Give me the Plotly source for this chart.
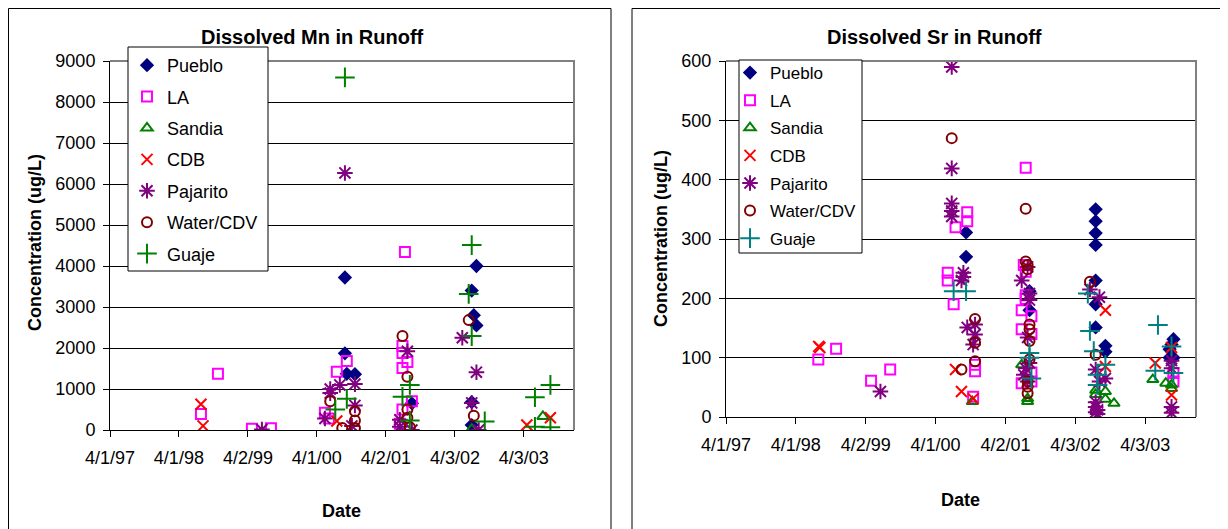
import plotly.graph_objects as go

# ---------------- data: dissolved Mn (ug/L) ----------------
mn_pueblo_dates = ["2000-08-28", "2000-08-28", "2000-09-07", "2000-10-20", "2001-08-18",
                   "2002-07-26", "2002-07-01", "2002-07-12", "2002-07-26", "2002-07-01", "2002-07-01"]
mn_pueblo_vals = [3720, 1870, 1370, 1360, 650, 4000, 3400, 2800, 2550, 680, 120]

mn_la_dates = ["1998-07-27", "1998-10-25", "1999-04-23", "1999-08-02", "2000-05-14", "2000-06-04",
               "2000-07-16", "2000-09-07", "2001-07-12", "2001-06-29", "2001-06-29", "2001-07-25",
               "2001-06-29", "2001-06-29", "2001-06-15", "2001-08-18"]
mn_la_vals = [390, 1370, 30, 40, 420, 280, 1420, 1680, 4340, 2050, 1880, 1660, 1510, 500, 150, 700]

mn_sandia_dates = ["2002-07-01", "2003-07-13"]
mn_sandia_vals = [20, 330]

mn_cdb_dates = ["1998-07-27", "1998-08-07", "2000-07-16", "2003-04-19", "2003-08-22"]
mn_cdb_vals = [630, 100, 220, 120, 300]

mn_pajarito_dates = ["1999-06-15", "2000-08-28", "2000-06-11", "2000-08-01", "2000-10-20", "2000-06-11",
                     "2000-10-20", "2000-10-04", "2000-05-14", "2001-07-25", "2001-06-15", "2001-06-15",
                     "2001-08-18", "2002-07-26", "2002-07-01", "2002-05-12", "2002-08-07"]
mn_pajarito_vals = [10, 6270, 1000, 1100, 1120, 900, 600, 100, 280, 1920, 250, 80, 0, 1410, 660, 2250, 0]

mn_water_dates = ["2000-06-11", "2000-08-14", "2000-10-20", "2000-10-20", "2000-10-20", "2001-06-29",
                  "2001-07-25", "2001-07-25", "2001-08-07", "2001-07-25", "2002-06-15", "2002-07-12"]
mn_water_vals = [700, 50, 460, 230, 50, 2290, 500, 300, 70, 1300, 2680, 350]

mn_guaje_dates = ["2000-08-28", "2000-09-07", "2000-07-08", "2001-08-07", "2001-06-29", "2001-08-07",
                  "2002-07-01", "2002-06-15", "2002-07-01", "2002-09-08", "2003-06-01", "2003-08-22",
                  "2003-06-01", "2003-08-22"]
mn_guaje_vals = [8600, 760, 500, 1100, 810, 230, 4510, 3320, 2290, 210, 800, 1100, 80, 70]

# ---------------- data: dissolved Sr (ug/L) ----------------
sr_pueblo_dates = ["2000-09-08", "2000-09-08", "2001-08-06", "2001-08-06", "2002-07-18", "2002-07-18",
                   "2002-07-18", "2002-07-18", "2002-07-18", "2002-07-18", "2002-07-18", "2002-09-07",
                   "2002-09-07", "2003-08-29", "2003-08-19", "2003-08-09", "2003-08-29", "2003-08-09"]
sr_pueblo_vals = [311, 270, 212, 180, 350, 330, 310, 290, 230, 190, 151, 120, 110, 131, 122, 114, 100, 100]

sr_la_dates = ["1998-07-28", "1998-10-29", "1999-04-30", "1999-08-08", "2000-06-04", "2000-06-04",
               "2000-07-15", "2000-09-14", "2000-09-14", "2000-07-05", "2000-10-25", "2000-10-25",
               "2000-10-15", "2001-07-17", "2001-07-07", "2001-07-17", "2001-07-17", "2001-07-17",
               "2001-06-26", "2001-08-16", "2001-06-26", "2001-08-16", "2001-08-16", "2001-06-26",
               "2001-08-16", "2003-08-29", "2003-08-29"]
sr_la_vals = [97, 115, 61, 80, 243, 230, 320, 345, 330, 190, 88, 77, 34, 420, 256, 245, 205, 199,
              180, 170, 148, 140, 75, 57, 60, 74, 60]

sr_sandia_dates = ["2000-10-11", "2001-06-26", "2001-07-27", "2001-07-27", "2002-07-18", "2002-07-18",
                   "2002-09-07", "2002-09-07", "2002-10-22", "2003-05-13", "2003-07-20", "2003-08-19",
                   "2003-08-19"]
sr_sandia_vals = [26, 88, 26, 31, 45, 38, 43, 30, 23, 63, 57, 54, 48]

sr_cdb_dates = ["1998-07-30", "1998-08-05", "2000-07-15", "2000-08-15", "2000-10-15", "2002-09-07",
                "2002-09-07", "2003-05-26", "2003-08-19", "2003-08-19"]
sr_cdb_vals = [119, 117, 80, 43, 31, 180, 85, 91, 117, 37]

sr_pajarito_dates = ["1999-06-18", "2000-06-25", "2000-06-25", "2000-06-25", "2000-06-25", "2000-06-25",
                     "2000-08-25", "2000-08-25", "2000-08-15", "2000-09-14", "2000-10-25", "2000-10-25",
                     "2000-10-15", "2001-06-26", "2001-07-27", "2001-08-06", "2001-08-06", "2001-07-27",
                     "2001-07-17", "2001-07-07", "2001-08-06", "2001-07-27", "2002-06-18", "2002-08-07",
                     "2002-07-18", "2002-09-07", "2002-08-07", "2002-07-18", "2002-07-18", "2002-07-28",
                     "2002-07-18", "2002-07-28", "2003-08-19", "2003-08-19", "2003-08-19", "2003-08-19"]
sr_pajarito_vals = [43, 590, 419, 360, 347, 338, 243, 236, 230, 151, 156, 139, 122, 230, 253, 208, 197,
                    134, 82, 71, 91, 60, 215, 202, 80, 65, 60, 25, 17, 12, 8, 5, 95, 82, 17, 7]

sr_water_dates = ["2000-06-25", "2000-08-15", "2000-10-25", "2000-10-25", "2000-10-25", "2001-07-17",
                  "2001-07-17", "2001-07-27", "2001-07-27", "2001-08-06", "2001-08-06", "2001-08-06",
                  "2001-08-06", "2001-07-27", "2001-07-27", "2001-07-27", "2002-06-18", "2002-07-18"]
sr_water_vals = [470, 80, 165, 125, 94, 351, 262, 256, 249, 156, 148, 128, 97, 60, 51, 40, 228, 105]

sr_guaje_dates = ["2000-07-05", "2000-09-08", "2001-08-06", "2001-08-06", "2001-08-16", "2002-06-07",
                  "2002-06-18", "2002-07-08", "2002-07-28", "2002-07-28", "2002-09-07", "2003-06-09",
                  "2003-05-26", "2003-08-19", "2003-08-29"]
sr_guaje_vals = [212, 212, 108, 100, 65, 208, 145, 111, 71, 54, 88, 155, 78, 119, 74]

date_ticks = ["1997-04-01", "1998-04-01", "1999-04-02", "2000-04-01", "2001-04-02", "2002-04-03", "2003-04-03"]
date_labels = ["4/1/97", "4/1/98", "4/2/99", "4/1/00", "4/2/01", "4/3/02", "4/3/03"]

FONT = "Arial, Liberation Sans, sans-serif"
# the page body keeps its 8px margin, so the figure starts at (8, 8) on screen
OFF = 8
W, H = 1228 - OFF, 529 - OFF

def px(v):
    # screen x (pixels) -> paper
    return (v - OFF) / W

def py(v):
    # screen y (pixels from top) -> paper
    return 1 - (v - OFF) / H

# symbol, colour, size for each site
styles = {
    "Pueblo": ("diamond", "#000080", 11),
    "LA": ("square-open", "#FF00FF", 10),
    "Sandia": ("triangle-up-open", "#008000", 10),
    "CDB": ("x-thin-open", "#FF0000", 11),
    "Pajarito": ("asterisk-open", "#800080", 13),
    "Water/CDV": ("circle-open", "#800000", 10),
    "Guaje": ("cross-thin-open", "#008000", 14),
}

mn_series = [
    ("Pueblo", mn_pueblo_dates, mn_pueblo_vals),
    ("LA", mn_la_dates, mn_la_vals),
    ("Sandia", mn_sandia_dates, mn_sandia_vals),
    ("CDB", mn_cdb_dates, mn_cdb_vals),
    ("Pajarito", mn_pajarito_dates, mn_pajarito_vals),
    ("Water/CDV", mn_water_dates, mn_water_vals),
    ("Guaje", mn_guaje_dates, mn_guaje_vals),
]
sr_series = [
    ("Pueblo", sr_pueblo_dates, sr_pueblo_vals),
    ("LA", sr_la_dates, sr_la_vals),
    ("Sandia", sr_sandia_dates, sr_sandia_vals),
    ("CDB", sr_cdb_dates, sr_cdb_vals),
    ("Pajarito", sr_pajarito_dates, sr_pajarito_vals),
    ("Water/CDV", sr_water_dates, sr_water_vals),
    ("Guaje", sr_guaje_dates, sr_guaje_vals),
]

fig = go.Figure()

for panel, series, xa, ya, leg in [("mn", mn_series, "x", "y", "legend"),
                                   ("sr", sr_series, "x2", "y2", "legend2")]:
    for name, d, v in series:
        sym, col, size = styles[name]
        if panel == "sr" and name == "Guaje":
            col = "#008080"  # Guaje is teal on the Sr chart
        fig.add_trace(go.Scatter(
            x=d, y=v, mode="markers", name=name,
            xaxis=xa, yaxis=ya, legend=leg, legendgroup=panel + name,
            marker=dict(symbol=sym, size=size, color=col,
                        line=dict(color=col, width=2 if "open" in sym else 0)),
        ))

xcommon = dict(type="date", range=["1997-04-01", "2003-12-25"], tickvals=date_ticks, ticktext=date_labels,
               showgrid=False, showline=True, linecolor="black", linewidth=1, ticks="outside",
               ticklen=6, tickcolor="black", ticklabelstandoff=5, automargin=False,
               tickfont=dict(family=FONT, size=18, color="black"), zeroline=False)
ycommon = dict(showgrid=True, gridcolor="black", gridwidth=1, showline=True, linecolor="black",
               linewidth=1, ticks="outside", ticklen=6, tickcolor="black", zeroline=False,
               automargin=False, tickfont=dict(family=FONT, size=18, color="black"), ticklabelstandoff=4)

fig.update_layout(
    width=W, height=H,
    margin=dict(l=0, r=0, t=0, b=0, pad=0),
    paper_bgcolor="white", plot_bgcolor="white",
    font=dict(family=FONT, color="black"),
    xaxis=dict(xcommon, domain=[px(110), px(574)], anchor="y"),
    yaxis=dict(ycommon, domain=[py(430), py(61)], range=[0, 9000], dtick=1000, anchor="x"),
    xaxis2=dict(xcommon, domain=[px(726), px(1196)], anchor="y2"),
    yaxis2=dict(ycommon, domain=[py(417), py(61)], range=[0, 600], dtick=100, anchor="x2"),
    legend=dict(x=px(127), y=py(47), xanchor="left", yanchor="top", bgcolor="rgba(0,0,0,0)",
                borderwidth=0, tracegroupgap=5, font=dict(family=FONT, size=18)),
    legend2=dict(x=px(730), y=py(55), xanchor="left", yanchor="top", bgcolor="rgba(0,0,0,0)",
                 borderwidth=0, tracegroupgap=2.5, font=dict(family=FONT, size=17)),
    showlegend=True,
)

shapes = [
    # outer panel frames
    dict(type="rect", xref="paper", yref="paper", x0=px(8.5), x1=px(611), y0=-0.05, y1=py(8.5),
         line=dict(color="black", width=1), layer="below"),
    dict(type="rect", xref="paper", yref="paper", x0=px(632), x1=1.05, y0=-0.05, y1=py(8.5),
         line=dict(color="black", width=1), layer="below"),
    # grey plot-area borders (top and right)
    dict(type="path", xref="x domain", yref="y domain", path="M 0,1 L 1,1 L 1,0",
         line=dict(color="#808080", width=2)),
    dict(type="path", xref="x2 domain", yref="y2 domain", path="M 0,1 L 1,1 L 1,0",
         line=dict(color="#808080", width=2)),
    # legend boxes
    dict(type="rect", xref="paper", yref="paper", x0=px(128), x1=px(268), y0=py(271), y1=py(47),
         line=dict(color="black", width=1), fillcolor="white", layer="above"),
    dict(type="rect", xref="paper", yref="paper", x0=px(739), x1=px(862), y0=py(253), y1=py(60),
         line=dict(color="black", width=1), fillcolor="white", layer="above"),
]
fig.update_layout(shapes=shapes)

bold = dict(family=FONT, size=18, color="black")
annots = [
    dict(text="<b>Dissolved Mn in Runoff</b>", x=px(312), y=py(37), font=dict(family=FONT, size=20, color="black")),
    dict(text="<b>Dissolved Sr in Runoff</b>", x=px(934), y=py(37), font=dict(family=FONT, size=20, color="black")),
    dict(text="<b>Concentration (ug/L)</b>", x=px(35), y=py(243), textangle=-90, font=bold),
    dict(text="<b>Concentration (ug/L)</b>", x=px(661), y=py(239), textangle=-90, font=bold),
    dict(text="<b>Date</b>", x=px(341), y=py(511), font=bold),
    dict(text="<b>Date</b>", x=px(961), y=py(500), font=bold),
]
for a in annots:
    fig.add_annotation(xref="paper", yref="paper", xanchor="center", yanchor="middle", showarrow=False, **a)

fig.write_html("out.html")
